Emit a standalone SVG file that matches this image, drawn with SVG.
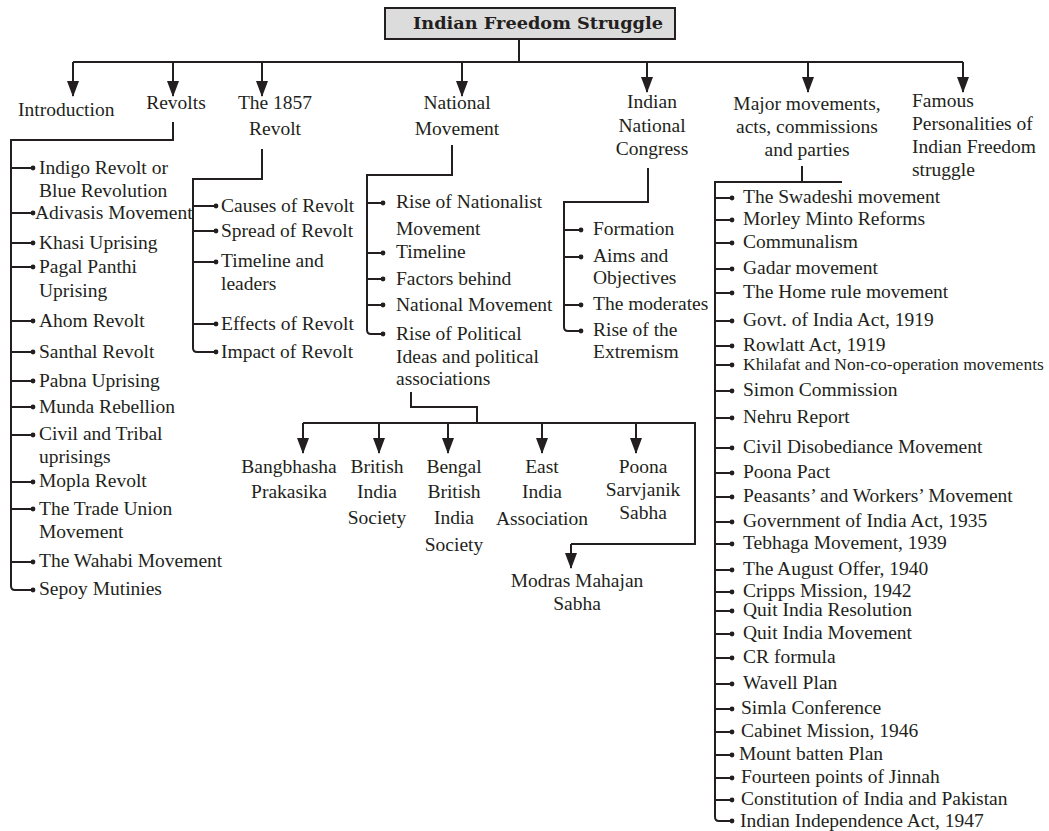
<svg xmlns="http://www.w3.org/2000/svg" width="1049" height="831" viewBox="0 0 1049 831">
  <defs>
    <style>
      .t { font-family: "Liberation Serif", "Times New Roman", serif; font-size: 19.5px; fill: #231f20; }
      .m { text-anchor: middle; }
      .sm { font-size: 17.5px; }
      .title { font-family: "DejaVu Serif", "Liberation Serif", serif; font-weight: bold; font-size: 17px; fill: #231f20; }
      .c { fill: none; stroke: #231f20; stroke-width: 2; }
      .a { marker-end: url(#arrow); }
      .b { marker-end: url(#dot); }
    </style>
    <marker id="arrow" viewBox="0 0 16 12" refX="15" refY="6" markerWidth="16" markerHeight="12" markerUnits="userSpaceOnUse" orient="auto">
      <path d="M0,0 L16,6 L0,12 z" fill="#231f20"/>
    </marker>
    <marker id="dot" viewBox="0 0 6 6" refX="3" refY="3" markerWidth="6" markerHeight="6" markerUnits="userSpaceOnUse">
      <circle cx="3" cy="3" r="2.4" fill="#231f20"/>
    </marker>
  </defs>
  <rect width="1049" height="831" fill="#ffffff"/>

  <!-- connectors -->
  <g id="connectors" class="c">
    <!-- root to first level -->
    <path d="M519,39 V62"/>
    <path d="M73,62 H963"/>
    <path class="a" d="M73,62 V96"/>
    <path class="a" d="M173,62 V96"/>
    <path class="a" d="M262,62 V96"/>
    <path class="a" d="M462,62 V96"/>
    <path class="a" d="M647,62 V92"/>
    <path class="a" d="M808,62 V92"/>
    <path class="a" d="M963,62 V92"/>

    <!-- Revolts list -->
    <path class="b" d="M173,122 V140 H11 V586 Q11,590 15,590 H33"/>
    <path class="b" d="M11,168 H33"/>
    <path class="b" d="M11,213 H33"/>
    <path class="b" d="M11,243 H33"/>
    <path class="b" d="M11,267 H33"/>
    <path class="b" d="M11,321 H33"/>
    <path class="b" d="M11,352 H33"/>
    <path class="b" d="M11,381 H33"/>
    <path class="b" d="M11,407 H33"/>
    <path class="b" d="M11,435 H33"/>
    <path class="b" d="M11,482 H33"/>
    <path class="b" d="M11,509 H33"/>
    <path class="b" d="M11,562 H33"/>

    <!-- 1857 Revolt list -->
    <path class="b" d="M262,149 V179 H193 V348 Q193,352 197,352 H216"/>
    <path class="b" d="M193,206 H216"/>
    <path class="b" d="M193,231 H216"/>
    <path class="b" d="M193,262 H216"/>
    <path class="b" d="M193,324 H216"/>

    <!-- National Movement list -->
    <path class="b" d="M452,145 V175 H367 V330 Q367,334 371,334 H383"/>
    <path class="b" d="M367,203 H383"/>
    <path class="b" d="M367,253 H383"/>
    <path class="b" d="M367,279 H383"/>
    <path class="b" d="M367,305 H383"/>

    <!-- Indian National Congress list -->
    <path class="b" d="M648,168 V202 H564 V327 Q564,331 568,331 H581"/>
    <path class="b" d="M564,230 H581"/>
    <path class="b" d="M564,257 H581"/>
    <path class="b" d="M564,305 H581"/>

    <!-- political associations -->
    <path d="M411,392 V407 H477 V423"/>
    <path d="M303,423 H695 V544 H571"/>
    <path class="a" d="M303,423 V453"/>
    <path class="a" d="M379,423 V453"/>
    <path class="a" d="M448,423 V453"/>
    <path class="a" d="M542,423 V453"/>
    <path class="a" d="M636,423 V453"/>
    <path class="a" d="M571,544 V568"/>

    <!-- major movements list -->
    <path d="M802,166 V182"/>
    <path class="b" d="M842,182 H715 V817 Q715,821 719,821 H732"/>
    <path class="b" d="M715,198 H732"/>
    <path class="b" d="M715,220 H732"/>
    <path class="b" d="M715,243 H732"/>
    <path class="b" d="M715,269 H732"/>
    <path class="b" d="M715,293 H732"/>
    <path class="b" d="M715,321 H732"/>
    <path class="b" d="M715,346 H732"/>
    <path class="b" d="M715,365 H732"/>
    <path class="b" d="M715,391 H732"/>
    <path class="b" d="M715,418 H732"/>
    <path class="b" d="M715,448 H732"/>
    <path class="b" d="M715,473 H732"/>
    <path class="b" d="M715,497 H732"/>
    <path class="b" d="M715,522 H732"/>
    <path class="b" d="M715,544 H732"/>
    <path class="b" d="M715,570 H732"/>
    <path class="b" d="M715,592 H732"/>
    <path class="b" d="M715,611 H732"/>
    <path class="b" d="M715,634 H732"/>
    <path class="b" d="M715,658 H732"/>
    <path class="b" d="M715,684 H732"/>
    <path class="b" d="M715,709 H732"/>
    <path class="b" d="M715,732 H732"/>
    <path class="b" d="M715,755 H732"/>
    <path class="b" d="M715,778 H732"/>
    <path class="b" d="M715,800 H732"/>
  </g>

  <!-- root -->
  <g id="root">
    <rect x="385" y="8" width="290" height="31" fill="#dcdcdc" stroke="#231f20" stroke-width="2"/>
    <text class="title" x="413" y="29" textLength="250" lengthAdjust="spacingAndGlyphs">Indian Freedom Struggle</text>
  </g>

  <!-- first level -->
  <g id="introduction"><text class="t" x="18" y="116">Introduction</text></g>
  <g id="revolts"><text class="t m" x="176" y="109">Revolts</text></g>
  <g id="revolt-1857"><text class="t m" x="275" y="109">The 1857</text><text class="t m" x="275" y="135">Revolt</text></g>
  <g id="national-movement"><text class="t m" x="457" y="109">National</text><text class="t m" x="457" y="135">Movement</text></g>
  <g id="inc"><text class="t m" x="652" y="108">Indian</text><text class="t m" x="652" y="131.5">National</text><text class="t m" x="652" y="155">Congress</text></g>
  <g id="major-movements"><text class="t m" x="807" y="110">Major movements,</text><text class="t m" x="807" y="133">acts, commissions</text><text class="t m" x="807" y="156">and parties</text></g>
  <g id="personalities"><text class="t" x="912" y="107">Famous</text><text class="t" x="912" y="130">Personalities of</text><text class="t" x="912" y="153">Indian Freedom</text><text class="t" x="912" y="176">struggle</text></g>

  <!-- revolts -->
  <g id="rv-indigo"><text class="t" x="39" y="174">Indigo Revolt or</text><text class="t" x="39" y="197">Blue Revolution</text></g>
  <g id="rv-adivasis"><text class="t" x="35" y="219">Adivasis Movement</text></g>
  <g id="rv-khasi"><text class="t" x="39" y="249">Khasi Uprising</text></g>
  <g id="rv-pagal"><text class="t" x="39" y="273">Pagal Panthi</text><text class="t" x="39" y="297">Uprising</text></g>
  <g id="rv-ahom"><text class="t" x="39" y="327">Ahom Revolt</text></g>
  <g id="rv-santhal"><text class="t" x="39" y="358">Santhal Revolt</text></g>
  <g id="rv-pabna"><text class="t" x="39" y="387">Pabna Uprising</text></g>
  <g id="rv-munda"><text class="t" x="39" y="413">Munda Rebellion</text></g>
  <g id="rv-civil"><text class="t" x="39" y="440">Civil and Tribal</text><text class="t" x="39" y="463">uprisings</text></g>
  <g id="rv-mopla"><text class="t" x="39" y="487">Mopla Revolt</text></g>
  <g id="rv-trade"><text class="t" x="39" y="515">The Trade Union</text><text class="t" x="39" y="538">Movement</text></g>
  <g id="rv-wahabi"><text class="t" x="39" y="567">The Wahabi Movement</text></g>
  <g id="rv-sepoy"><text class="t" x="39" y="595">Sepoy Mutinies</text></g>

  <!-- 1857 revolt -->
  <g id="r57-causes"><text class="t" x="221" y="212">Causes of Revolt</text></g>
  <g id="r57-spread"><text class="t" x="221" y="237">Spread of Revolt</text></g>
  <g id="r57-timeline"><text class="t" x="221" y="267">Timeline and</text><text class="t" x="221" y="290">leaders</text></g>
  <g id="r57-effects"><text class="t" x="221" y="330">Effects of Revolt</text></g>
  <g id="r57-impact"><text class="t" x="221" y="358">Impact of Revolt</text></g>

  <!-- national movement -->
  <g id="nm-rise"><text class="t" x="396" y="208">Rise of Nationalist</text><text class="t" x="396" y="235">Movement</text></g>
  <g id="nm-timeline"><text class="t" x="396" y="258">Timeline</text></g>
  <g id="nm-factors"><text class="t" x="396" y="285">Factors behind</text></g>
  <g id="nm-national"><text class="t" x="396" y="311">National Movement</text></g>
  <g id="nm-political"><text class="t" x="396" y="340">Rise of Political</text><text class="t" x="396" y="363">Ideas and political</text><text class="t" x="396" y="385">associations</text></g>

  <!-- associations -->
  <g id="as-bangbhasha"><text class="t m" x="289" y="473">Bangbhasha</text><text class="t m" x="289" y="498">Prakasika</text></g>
  <g id="as-british"><text class="t m" x="377" y="473">British</text><text class="t m" x="377" y="498">India</text><text class="t m" x="377" y="524">Society</text></g>
  <g id="as-bengal"><text class="t m" x="454" y="473">Bengal</text><text class="t m" x="454" y="498">British</text><text class="t m" x="454" y="524">India</text><text class="t m" x="454" y="551">Society</text></g>
  <g id="as-east"><text class="t m" x="542" y="473">East</text><text class="t m" x="542" y="498">India</text><text class="t m" x="542" y="525">Association</text></g>
  <g id="as-poona"><text class="t m" x="643" y="473">Poona</text><text class="t m" x="643" y="496">Sarvjanik</text><text class="t m" x="643" y="519">Sabha</text></g>
  <g id="as-modras"><text class="t m" x="577" y="587">Modras Mahajan</text><text class="t m" x="577" y="610">Sabha</text></g>

  <!-- indian national congress -->
  <g id="inc-formation"><text class="t" x="593" y="235">Formation</text></g>
  <g id="inc-aims"><text class="t" x="593" y="262">Aims and</text><text class="t" x="593" y="284">Objectives</text></g>
  <g id="inc-moderates"><text class="t" x="593" y="310">The moderates</text></g>
  <g id="inc-extremism"><text class="t" x="593" y="336">Rise of the</text><text class="t" x="593" y="358">Extremism</text></g>

  <!-- major movements, acts, commissions and parties -->
  <g id="mm-01"><text class="t" x="743" y="203">The Swadeshi movement</text></g>
  <g id="mm-02"><text class="t" x="743" y="225">Morley Minto Reforms</text></g>
  <g id="mm-03"><text class="t" x="743" y="248">Communalism</text></g>
  <g id="mm-04"><text class="t" x="743" y="274">Gadar movement</text></g>
  <g id="mm-05"><text class="t" x="743" y="298">The Home rule movement</text></g>
  <g id="mm-06"><text class="t" x="743" y="326">Govt. of India Act, 1919</text></g>
  <g id="mm-07"><text class="t" x="743" y="351">Rowlatt Act, 1919</text></g>
  <g id="mm-08"><text class="t sm" x="743" y="370">Khilafat and Non-co-operation movements</text></g>
  <g id="mm-09"><text class="t" x="743" y="396">Simon Commission</text></g>
  <g id="mm-10"><text class="t" x="743" y="423">Nehru Report</text></g>
  <g id="mm-11"><text class="t" x="743" y="453">Civil Disobediance Movement</text></g>
  <g id="mm-12"><text class="t" x="743" y="478">Poona Pact</text></g>
  <g id="mm-13"><text class="t" x="743" y="502">Peasants’ and Workers’ Movement</text></g>
  <g id="mm-14"><text class="t" x="743" y="527">Government of India Act, 1935</text></g>
  <g id="mm-15"><text class="t" x="743" y="549">Tebhaga Movement, 1939</text></g>
  <g id="mm-16"><text class="t" x="743" y="575">The August Offer, 1940</text></g>
  <g id="mm-17"><text class="t" x="743" y="597">Cripps Mission, 1942</text></g>
  <g id="mm-18"><text class="t" x="743" y="616">Quit India Resolution</text></g>
  <g id="mm-19"><text class="t" x="743" y="639">Quit India Movement</text></g>
  <g id="mm-20"><text class="t" x="743" y="663">CR formula</text></g>
  <g id="mm-21"><text class="t" x="743" y="689">Wavell Plan</text></g>
  <g id="mm-22"><text class="t" x="741" y="714">Simla Conference</text></g>
  <g id="mm-23"><text class="t" x="741" y="737">Cabinet Mission, 1946</text></g>
  <g id="mm-24"><text class="t" x="739" y="760">Mount batten Plan</text></g>
  <g id="mm-25"><text class="t" x="741" y="783">Fourteen points of Jinnah</text></g>
  <g id="mm-26"><text class="t" x="741" y="805">Constitution of India and Pakistan</text></g>
  <g id="mm-27"><text class="t" x="740" y="827">Indian Independence Act, 1947</text></g>
</svg>
